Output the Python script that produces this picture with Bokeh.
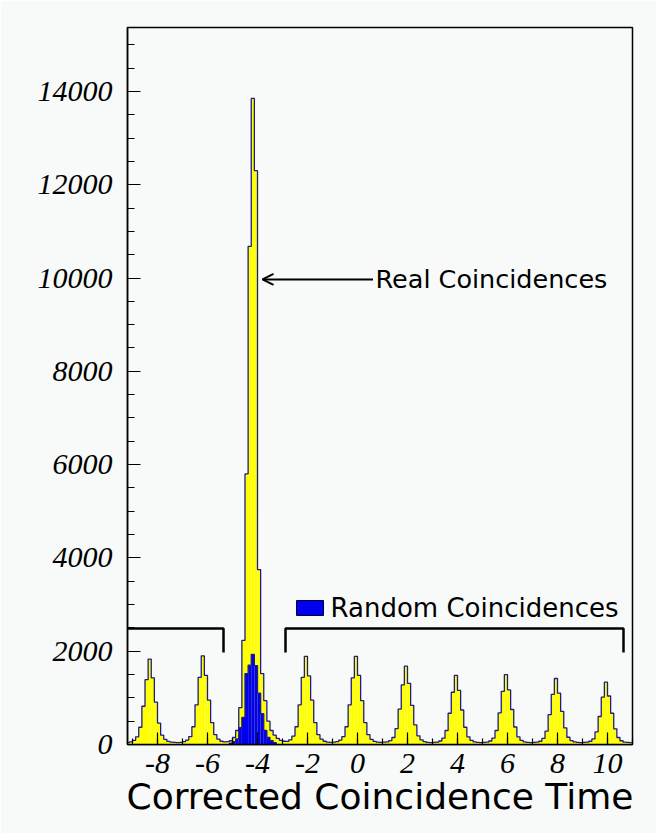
from bokeh.plotting import figure
from bokeh.models import Range1d, FixedTicker, Label, Arrow, OpenHead, BoxAnnotation
from bokeh.embed import file_html
from bokeh.resources import INLINE

# ---- data ----
bin_start = -9.25
bin_width = 0.125
yellow_counts = [
    40, 55, 90, 165, 370, 820, 1390, 1830, 1430, 910, 460, 200, 110, 65,
    50, 45, 40, 45,
    60, 95, 170, 380, 850, 1440, 1900, 1480, 950, 470, 210, 115, 70,
    55, 60, 80, 150,
    300, 790, 2230, 5800, 10680, 13850, 12300, 3750, 1520, 940, 500, 300, 200, 130, 90, 70,
    65, 100, 180, 380, 850, 1440, 1890, 1470, 950, 470, 210, 115, 70,
    50, 45, 50,
    60, 95, 170, 380, 850, 1430, 1890, 1480, 940, 470, 210, 110, 65,
    50, 45, 50,
    55, 85, 150, 340, 760, 1280, 1680, 1310, 840, 420, 185, 100, 60,
    45, 40, 45,
    50, 75, 135, 300, 670, 1120, 1480, 1160, 740, 370, 165, 90, 55,
    45, 40, 45,
    50, 75, 135, 300, 680, 1140, 1500, 1170, 750, 375, 165, 90, 55,
    45, 40, 45,
    50, 70, 130, 285, 640, 1075, 1415, 1100, 710, 355, 155, 85, 55,
    45, 40, 45,
    50, 70, 120, 270, 600, 1015, 1335, 1040, 670, 335, 150, 80, 50,
    45, 40,
]
blue_first_bin = 33
blue_counts = [30, 60, 120, 360, 580, 1520, 1700, 1930, 1690, 1100, 660, 300, 150, 80, 40]

x_ticks = [-8, -6, -4, -2, 0, 2, 4, 6, 8, 10]
x_tick_labels = ["-8", "-6", "-4", "-2", "0", "2", "4", "6", "8", "10"]
x_minor = list(range(-9, 12))
y_ticks = [0, 2000, 4000, 6000, 8000, 10000, 12000, 14000]
y_minor = list(range(0, 15500, 500))

# annotation positions (data units)
real_label = (0.72, 9970)
arrow_from, arrow_to = 0.62, -3.8
random_label = (-1.08, 2916)
legend_box = (-2.44, -1.36, 2766, 3087)
bracket_y_top, bracket_y_bot = 2487, 1972
left_bracket_x = (-9.3, -5.36)
right_bracket_x = (-2.88, 10.64)

YELLOW = "#ffff00"
NAVY = "#1c1c8a"
BLUE = "#0000ee"
BG = "#f7faf8"

edges = [bin_start + i * bin_width for i in range(len(yellow_counts) + 1)]


def step_path(e, counts):
    xs, ys = [e[0]], [0]
    for i, c in enumerate(counts):
        xs += [e[i], e[i + 1]]
        ys += [c, c]
    xs.append(e[len(counts)])
    ys.append(0)
    return xs, ys


p = figure(width=656, height=833, output_backend="svg", toolbar_location=None,
           x_range=Range1d(-9.2, 11.0), y_range=Range1d(0, 15370),
           min_border_left=127, min_border_right=24, min_border_top=27, min_border_bottom=89)
p.background_fill_color = BG
p.border_fill_color = BG
p.outline_line_color = "black"
p.outline_line_width = 1.5
p.xgrid.visible = False
p.ygrid.visible = False

# yellow histogram
p.quad(left=edges[:-1], right=edges[1:], bottom=0, top=yellow_counts,
       fill_color=YELLOW, line_color=None)
yx, yy = step_path(edges, yellow_counts)
p.line(yx, yy, line_color=NAVY, line_width=1.3)

# blue histogram
be = edges[blue_first_bin:blue_first_bin + len(blue_counts) + 1]
p.quad(left=be[:-1], right=be[1:], bottom=0, top=blue_counts,
       fill_color=BLUE, line_color=None)
bx, by = step_path(be, blue_counts)
p.line(bx, by, line_color=NAVY, line_width=1.3)

# brackets
p.line([left_bracket_x[0], left_bracket_x[1], left_bracket_x[1]],
       [bracket_y_top, bracket_y_top, bracket_y_bot], line_color="black", line_width=2.5)
p.line([right_bracket_x[0], right_bracket_x[0], right_bracket_x[1], right_bracket_x[1]],
       [bracket_y_bot, bracket_y_top, bracket_y_top, bracket_y_bot], line_color="black", line_width=2.5)

# annotations
p.add_layout(Arrow(end=OpenHead(size=11, line_width=2, line_color="black"),
                   x_start=arrow_from, y_start=real_label[1], x_end=arrow_to, y_end=real_label[1],
                   line_width=2, line_color="black"))
p.add_layout(Label(x=real_label[0], y=real_label[1], text="Real Coincidences",
                   text_font="DejaVu Sans", text_font_size="25.5px", text_baseline="middle",
                   text_color="black"))
p.add_layout(BoxAnnotation(left=legend_box[0], right=legend_box[1], bottom=legend_box[2],
                           top=legend_box[3], fill_color=BLUE, fill_alpha=1,
                           line_color="#000040", line_width=1, line_alpha=1))
p.add_layout(Label(x=random_label[0], y=random_label[1], text="Random Coincidences",
                   text_font="DejaVu Sans", text_font_size="26px", text_baseline="middle",
                   text_color="black"))

# axes
for ax in (p.xaxis, p.yaxis):
    ax.major_label_text_font = "Liberation Serif"
    ax.major_label_text_font_style = "italic"
    ax.major_label_text_font_size = "30px"
    ax.major_label_text_color = "black"
    ax.axis_line_color = "black"
    ax.axis_line_width = 1.5
    ax.major_tick_line_color = "black"
    ax.minor_tick_line_color = "black"
    ax.major_tick_line_width = 1.2
    ax.minor_tick_line_width = 1.2
    ax.major_tick_out = 0
    ax.minor_tick_out = 0

p.xaxis.ticker = FixedTicker(ticks=x_ticks, minor_ticks=x_minor)
p.xaxis.major_label_overrides = {t: s for t, s in zip(x_ticks, x_tick_labels)}
p.yaxis.ticker = FixedTicker(ticks=y_ticks, minor_ticks=y_minor)
p.xaxis.major_tick_in = 12
p.xaxis.minor_tick_in = 6
p.yaxis.major_tick_in = 13
p.yaxis.minor_tick_in = 7
p.xaxis.major_label_standoff = 9
p.yaxis.major_label_standoff = 15
p.yaxis.major_label_orientation = "horizontal"

p.xaxis.axis_label = "Corrected Coincidence Time"
p.xaxis.axis_label_text_font = "DejaVu Sans"
p.xaxis.axis_label_text_font_style = "normal"
p.xaxis.axis_label_text_font_size = "36px"
p.xaxis.axis_label_text_color = "black"
p.xaxis.axis_label_standoff = 0

open("out.html", "w").write(file_html(p, INLINE))
